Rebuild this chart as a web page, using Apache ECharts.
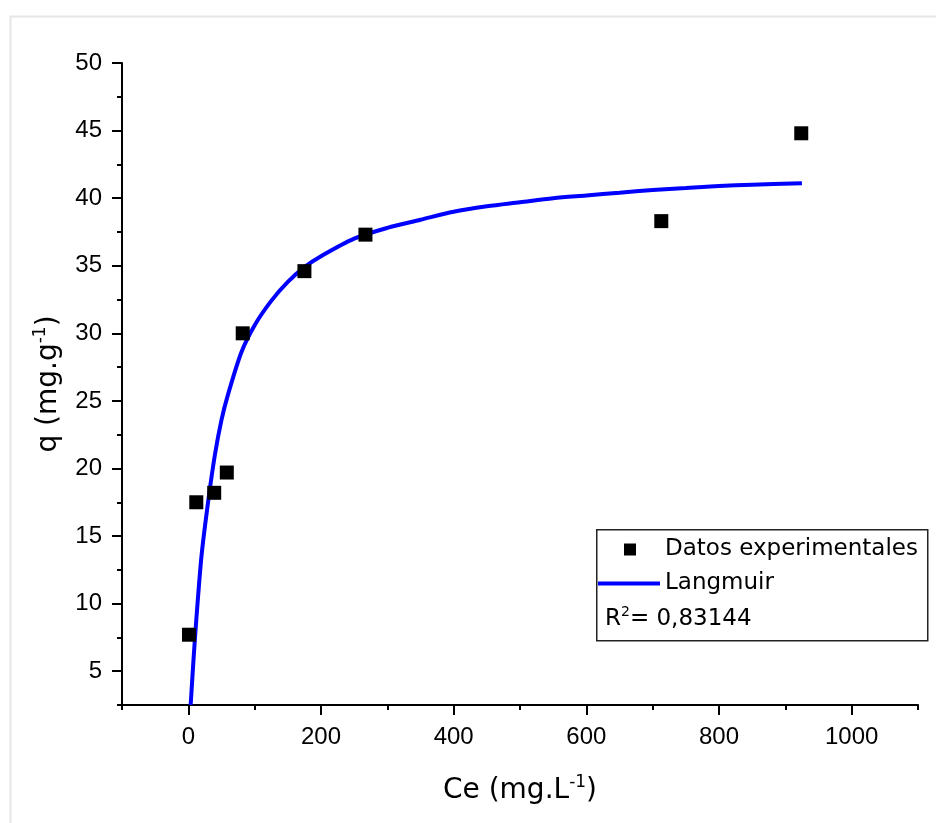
<!DOCTYPE html>
<html>
<head>
<meta charset="utf-8">
<script src="https://cdn.jsdelivr.net/npm/echarts@6/dist/echarts.min.js"></script>
<style>
  html, body { margin: 0; padding: 0; background: #fff; }
  #chart { width: 936px; height: 823px; }
</style>
</head>
<body>
<div id="chart"></div>
<script>
// experimental points
var ceExp = [1, 12, 39, 58, 82, 175, 267, 713, 924];
var qExp = [7.7, 17.5, 18.2, 19.7, 30.0, 34.6, 37.3, 38.3, 44.8];

// Langmuir curve
var ceFit = [3.5, 8, 12, 20, 30, 40, 50, 60, 80, 100, 125, 150, 175, 200, 250, 300, 350, 400, 450, 500, 550, 600, 650, 700, 750, 800, 850, 925];
var qFit = [2.5, 6.0, 8.8, 13.6, 17.6, 21.0, 23.6, 25.5, 28.6, 30.6, 32.4, 33.8, 34.9, 35.7, 37.0, 37.8, 38.4, 39.0, 39.4, 39.7, 40.0, 40.2, 40.4, 40.6, 40.75, 40.9, 41.0, 41.1];

// ticks
var xMajor = [0, 200, 400, 600, 800, 1000];
var xMinor = [-100, 100, 300, 500, 700, 900, 1100];
var yMajor = [5, 10, 15, 20, 25, 30, 35, 40, 45, 50];
var yMinor = [2.5, 7.5, 12.5, 17.5, 22.5, 27.5, 32.5, 37.5, 42.5, 47.5];

var seriesNames = ['Datos experimentales', 'Langmuir'];
var r2Text = '0,83144';

var FONT = 'Arial, "Liberation Sans", sans-serif';
var WIDE = '"DejaVu Sans", Arial, sans-serif';

var chart = echarts.init(document.getElementById('chart'));

function pairs(xs, ys) {
	var out = [];
	for (var i = 0; i < xs.length; i++) out.push([xs[i], ys[i]]);
	return out;
}

var titleRich = {
	t: { fontSize: 28, fontFamily: WIDE, color: '#000', lineHeight: 34, verticalAlign: 'middle' },
	s: { fontSize: 17, fontFamily: WIDE, color: '#000', verticalAlign: 'top' }
};

var axisLineStyle = { onZero: false, lineStyle: { color: '#000', width: 2 } };

option = {
	backgroundColor: '#fff',
	animation: false,
	textStyle: { fontFamily: FONT },
	grid: { left: 122, right: 18, top: 63, bottom: 118 },
	graphic: [
		{
			type: 'rect', left: 8, top: 14, silent: true,
			shape: { width: 940, height: 820 },
			style: { fill: null, stroke: '#e6e6e6', lineWidth: 2 }
		},
		{
			type: 'rect', left: 596, top: 529, z: 10, silent: true,
			shape: { width: 331, height: 111 },
			style: { fill: '#fff', stroke: '#222', lineWidth: 1.5 }
		},
		{
			type: 'text', left: 605, top: 605, z: 12,
			style: {
				text: '{t|R}{s|2}{t|= ' + r2Text + '}',
				rich: {
					t: { fontSize: 23, fontFamily: WIDE, fill: '#000', lineHeight: 28, verticalAlign: 'middle' },
					s: { fontSize: 14, fontFamily: WIDE, fill: '#000', verticalAlign: 'top' }
				}
			}
		}
	],
	legend: {
		orient: 'vertical',
		left: 593,
		top: 533,
		z: 12,
		itemWidth: 62,
		itemHeight: 14,
		itemGap: 11,
		textStyle: { fontSize: 23, color: '#000', fontFamily: WIDE, lineHeight: 23 },
		data: [
			{ name: seriesNames[0], icon: 'path://M0,0 M62,14 M26,1 H38 V13 H26 Z' },
			{ name: seriesNames[1], icon: 'path://M0,0 M62,14 M0,5 H62 V9 H0 Z' }
		]
	},
	xAxis: [
		{
			type: 'value',
			min: -100,
			max: 1100,
			interval: 100,
			name: '{t|Ce (mg.L}{s|-1}{t|)}',
			nameLocation: 'middle',
			nameGap: 69,
			nameTextStyle: { rich: titleRich },
			axisLine: axisLineStyle,
			axisTick: { show: true, length: 10, customValues: xMajor, lineStyle: { color: '#000', width: 2 } },
			axisLabel: {
				customValues: xMajor, fontSize: 24, color: '#000', margin: 20, fontFamily: FONT,
				formatter: function (v) { return String(v); }
			},
			splitLine: { show: false }
		},
		{
			type: 'value',
			min: -100,
			max: 1100,
			interval: 100,
			position: 'bottom',
			axisLine: { show: false, onZero: false },
			axisTick: { show: true, length: 5, customValues: xMinor, lineStyle: { color: '#000', width: 2 } },
			axisLabel: { show: false },
			splitLine: { show: false }
		}
	],
	yAxis: [
		{
			type: 'value',
			min: 2.5,
			max: 50,
			interval: 2.5,
			name: '{t|q (mg.g}{s|-1}{t|)}',
			nameLocation: 'middle',
			nameGap: 56,
			nameTextStyle: { rich: titleRich },
			axisLine: axisLineStyle,
			axisTick: { show: true, length: 10, customValues: yMajor, lineStyle: { color: '#000', width: 2 } },
			axisLabel: {
				customValues: yMajor, fontSize: 24, color: '#000', margin: 20, fontFamily: FONT,
				formatter: function (v) { return String(v); }
			},
			splitLine: { show: false }
		},
		{
			type: 'value',
			min: 2.5,
			max: 50,
			interval: 2.5,
			position: 'left',
			axisLine: { show: false, onZero: false },
			axisTick: { show: true, length: 5, customValues: yMinor, lineStyle: { color: '#000', width: 2 } },
			axisLabel: { show: false },
			splitLine: { show: false }
		}
	],
	series: [
		{
			name: seriesNames[0],
			type: 'scatter',
			symbol: 'rect',
			symbolSize: 14,
			itemStyle: { color: '#000', opacity: 1 },
			data: pairs(ceExp, qExp),
			z: 3
		},
		{
			name: seriesNames[1],
			type: 'line',
			smooth: 0.3,
			showSymbol: false,
			symbol: 'none',
			clip: true,
			lineStyle: { color: '#0000ff', width: 4 },
			itemStyle: { color: '#0000ff' },
			data: pairs(ceFit, qFit),
			z: 2
		}
	]
};

chart.setOption(option);
</script>
</body>
</html>
